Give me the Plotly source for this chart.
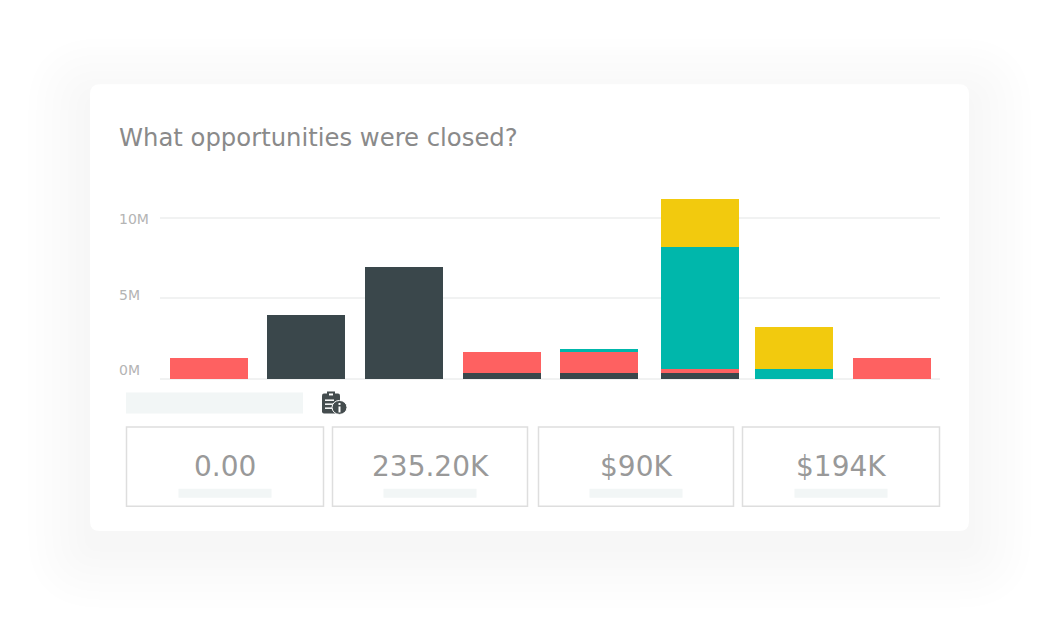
import plotly.graph_objects as go

categories = ["A", "B", "C", "D", "E", "F", "G", "H"]
dark_values = [0, 4.0, 6.97, 0.37, 0.37, 0.37, 0, 0]
red_values = [1.3, 0, 0, 1.3, 1.3, 0.27, 0, 1.29]
teal_values = [0, 0, 0, 0, 0.2, 7.55, 0.63, 0]
yellow_values = [0, 0, 0, 0, 0, 2.97, 2.62, 0]
tick_values = [0, 5, 10]
tick_labels = ["0M", "5M", "10M"]
title_text = "What opportunities were closed?"
stat_labels = ["0.00", "235.20K", "$90K", "$194K"]

FONT = "DejaVu Sans"
W, H = 1059, 629
L, R, T, B = 160, 940, 180, 379.5
BAR_NUDGE = [0, 0, 0, 0.5, 0, 3.5, 0, 0.7]  # the bars are not evenly spaced in the source


def px(x):
    return (x - L) / (R - L)


def py(y):
    return (B - y) / (B - T)


def rounded(x0, y0, x1, y1, r):
    a, b, c, d = px(x0), px(x1), py(y0), py(y1)
    rx, ry = r / (R - L), r / (B - T)
    return (f"M {a+rx} {c} L {b-rx} {c} Q {b} {c} {b} {c-ry} L {b} {d+ry} Q {b} {d} {b-rx} {d} "
            f"L {a+rx} {d} Q {a} {d} {a} {d+ry} L {a} {c-ry} Q {a} {c} {a+rx} {c} Z")


def rect(x0, y0, x1, y1, fill="rgba(0,0,0,0)", line=None, width=0):
    return dict(type="rect", xref="paper", yref="paper", layer="below",
                x0=px(x0), x1=px(x1), y0=py(y1), y1=py(y0), fillcolor=fill,
                line=dict(color=line, width=width))


offsets = [-0.4 + n / 97.5 for n in BAR_NUDGE]
fig = go.Figure()
for vals, color, name in [(dark_values, "#3a474b", "Dark"), (red_values, "#fe6161", "Red"),
                          (teal_values, "#00b7ab", "Teal"), (yellow_values, "#f2ca0e", "Yellow")]:
    fig.add_bar(x=categories, y=vals, marker_color=color, marker_line_width=0, name=name,
                width=0.8, offset=offsets)

shapes = []
# soft shadow, each layer darkens the page by one level
for g in [62, 54, 46, 38, 30, 22, 14, 6]:
    shapes.append(dict(type="path", xref="paper", yref="paper", layer="below",
                       path=rounded(90 - g, 84 - g + 16, 969 + g, 531 + g + 16, 10 + g),
                       fillcolor="rgba(0,0,0,0.004)", line=dict(width=0)))
shapes.append(dict(type="path", xref="paper", yref="paper", layer="below",
                   path=rounded(90, 84, 969, 532, 10), fillcolor="white", line=dict(width=0)))

shapes.append(rect(126, 393, 303, 414, fill="#f2f6f6"))
for x0, x1 in [(126.5, 323.5), (332.5, 527.5), (538.5, 733.5), (742.5, 939.5)]:
    shapes.append(rect(x0, 427.5, x1, 507, line="#dedede", width=1.5))
    mid = (x0 + x1) / 2
    shapes.append(rect(mid - 46.5, 489.5, mid + 46.5, 498.5, fill="#f2f6f6"))

# clipboard icon
shapes.append(dict(type="path", xref="paper", yref="paper", layer="below",
                   path=rounded(322, 394, 340, 414, 2), fillcolor="#444c4e", line=dict(width=0)))
shapes.append(rect(327, 392, 335, 398, fill="#444c4e"))
shapes.append(rect(329, 394, 333, 396, fill="white"))
for y in [400, 404, 408]:
    shapes.append(rect(325, y, 334, y + 1.5, fill="white"))
shapes.append(dict(type="circle", xref="paper", yref="paper", layer="below",
                   x0=px(332), x1=px(347), y0=py(415), y1=py(401), fillcolor="#444c4e",
                   line=dict(color="white", width=1)))
shapes.append(rect(338.5, 407, 340.5, 413, fill="white"))
shapes.append(rect(338.5, 403.5, 340.5, 405.5, fill="white"))

annotations = [dict(text=title_text, x=px(117), y=py(137), xref="paper", yref="paper", xanchor="left",
                    yanchor="middle", showarrow=False, font=dict(family=FONT, size=24.3, color="#8a8a8a"))]
# tick labels sit left aligned and not quite on the gridlines
for val, lab, yp in zip(tick_values, tick_labels, [370.5, 295.5, 219.5]):
    annotations.append(dict(text=lab, x=px(117), y=py(yp), xref="paper", yref="paper", xanchor="left",
                            yanchor="middle", showarrow=False,
                            font=dict(family=FONT, size=14, color="#b4b4b4")))
for lab, xc in zip(stat_labels, [225, 430, 636, 841]):
    annotations.append(dict(text=lab, x=px(xc), y=py(467), xref="paper", yref="paper", xanchor="center",
                            yanchor="middle", showarrow=False,
                            font=dict(family=FONT, size=28, color="#999999")))

fig.update_layout(
    width=W, height=H, barmode="stack", showlegend=False,
    margin=dict(l=L, r=W - R, t=T, b=H - B, pad=0),
    paper_bgcolor="white", plot_bgcolor="rgba(0,0,0,0)",
    shapes=shapes, annotations=annotations,
)
fig.update_xaxes(showticklabels=False, showgrid=False, zeroline=False, ticks="")
fig.update_yaxes(range=[0, (B - T) / 16.15], tickvals=tick_values, showticklabels=False,
                 gridcolor="#f1f2f2", gridwidth=2, zeroline=True, zerolinecolor="#f1f2f2", zerolinewidth=2)

fig.write_html("out.html", config={"displayModeBar": False},
               post_script="document.body.style.margin='0';")
